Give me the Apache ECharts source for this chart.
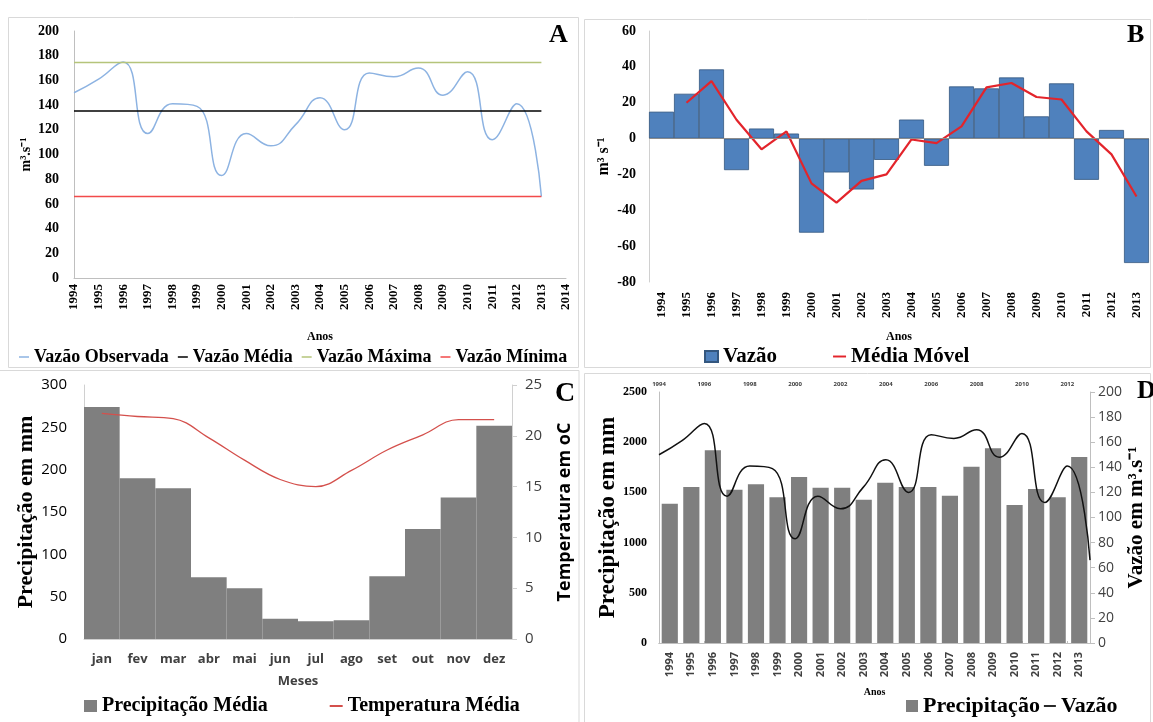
<!DOCTYPE html>
<html lang="pt">
<head>
  <meta charset="UTF-8" />
  <title>Vazão e precipitação</title>
  <script src="https://cdn.jsdelivr.net/npm/echarts@6/dist/echarts.min.js"></script>
  <style>
    html, body { margin: 0; background: #fff; }
    #main { width: 1153px; height: 722px; }
  </style>
</head>
<body>
  <div id="main"></div>
  <script type="text/javascript">
    // dados
    var anos = ['1994', '1995', '1996', '1997', '1998', '1999', '2000', '2001', '2002', '2003',
      '2004', '2005', '2006', '2007', '2008', '2009', '2010', '2011', '2012', '2013']
    var anosEixoA = anos.concat(['2014'])
    var meses = ['jan', 'fev', 'mar', 'abr', 'mai', 'jun', 'jul', 'ago', 'set', 'out', 'nov', 'dez']

    // A - vazão observada (m3/s)
    var vazaoObservada = [150, 161, 175, 117, 141, 139, 83, 117, 107, 124,
      146, 120, 166, 163, 170, 148, 167, 112, 141, 66]
    var vazaoMedia = 135.3
    var vazaoMaxima = 174.5
    var vazaoMinima = 66

    // B - desvio da vazão e média móvel
    var desvioVazao = [15, 25, 38.6, -17.6, 5.6, 2.8, -52.5, -18.9, -28.4, -11.9,
      10.6, -15.2, 29.1, 28, 34.1, 12.4, 30.8, -23, 4.8, -69.4]
    var mediaMovel = [null, 20, 32, 10.5, -6, 4, -25, -35.7, -23.6, -20,
      -0.5, -2.5, 6.8, 28.6, 31, 23.2, 21.8, 4, -8.8, -32.3]

    // C - climatologia mensal
    var precipMensal = [274, 190, 178, 73, 60, 24, 21, 22, 74, 130, 167, 252]
    var tempMensal = [22.2, 21.9, 21.7, 19.8, 17.6, 15.7, 15.0, 16.6, 18.6, 20.1, 21.6, 21.6]

    // D - precipitação anual (mm)
    var precipAnual = [1388, 1554, 1919, 1527, 1580, 1451, 1653, 1547, 1547, 1428,
      1597, 1554, 1554, 1467, 1756, 1939, 1374, 1534, 1451, 1853]

    var serif = '"Liberation Serif", "Times New Roman", serif'
    var sans = '"Open Sans", "Liberation Sans", sans-serif'
    var cinza = '#bfbfbf'
    // traço curto usado na legenda das linhas
    var tracoLegenda = 'path://M0,0 H20 V3 H0 Z'

    var myChart = echarts.init(document.getElementById('main'))

    function eixoLinha(cor) {
      return { show: true, lineStyle: { color: cor || cinza, width: 1 } }
    }
    function numeroSimples(v) {
      return String(v)
    }

    var option = {
      animation: false,
      backgroundColor: '#fff',
      grid: [
        { left: 74, top: 31, width: 492, height: 247 },
        { left: 649, top: 31, width: 500, height: 251 },
        { left: 84, top: 385, width: 428, height: 254 },
        { left: 659, top: 392, width: 431, height: 251 }
      ],
      xAxis: [
        {
          gridIndex: 0, type: 'category', data: anosEixoA, boundaryGap: false,
          axisLine: eixoLinha(), axisTick: { show: false },
          axisLabel: { rotate: 90, margin: 6, interval: 0, fontFamily: serif, fontWeight: 'bold', fontSize: 13, color: '#000' },
          name: 'Anos', nameLocation: 'middle', nameGap: 53,
          nameTextStyle: { fontFamily: serif, fontWeight: 'bold', fontSize: 12, color: '#000' }
        },
        {
          gridIndex: 1, type: 'category', data: anos,
          axisLine: { show: false, onZero: false }, axisTick: { show: false },
          axisLabel: { rotate: 90, margin: 10, interval: 0, fontFamily: serif, fontWeight: 'bold', fontSize: 13, color: '#000' },
          name: 'Anos', nameLocation: 'middle', nameGap: 49,
          nameTextStyle: { fontFamily: serif, fontWeight: 'bold', fontSize: 12, color: '#000' }
        },
        {
          gridIndex: 2, type: 'category', data: meses,
          axisLine: eixoLinha('#d0d0d0'), axisTick: { show: false },
          axisLabel: { margin: 14, interval: 0, fontFamily: sans, fontWeight: 'bold', fontSize: 13, color: '#404040' },
          name: 'Meses', nameLocation: 'middle', nameGap: 36,
          nameTextStyle: { fontFamily: sans, fontWeight: 'bold', fontSize: 13, color: '#404040' }
        },
        {
          gridIndex: 3, type: 'category', data: anos, position: 'bottom',
          axisLine: eixoLinha(), axisTick: { show: false },
          axisLabel: { rotate: 90, margin: 9, interval: 0, fontFamily: sans, fontWeight: 'bold', fontSize: 11, color: '#404040' },
          name: 'Anos', nameLocation: 'middle', nameGap: 44,
          nameTextStyle: { fontFamily: serif, fontWeight: 'bold', fontSize: 10, color: '#000' }
        },
        {
          // eixo superior do painel D (vazão)
          gridIndex: 3, type: 'category', data: anos, position: 'top', boundaryGap: false,
          axisLine: eixoLinha(), axisTick: { show: true, length: 2, lineStyle: { color: cinza } },
          axisLabel: { interval: 1, margin: 5, fontFamily: sans, fontWeight: 'bold', fontSize: 6, color: '#404040' }
        }
      ],
      yAxis: [
        {
          gridIndex: 0, type: 'value', min: 0, max: 200, interval: 20,
          axisLine: eixoLinha(), axisTick: { show: false }, splitLine: { show: false },
          axisLabel: { margin: 15, fontFamily: serif, fontWeight: 'bold', fontSize: 14, color: '#000' },
          name: 'm³.s⁻¹', nameLocation: 'middle', nameGap: 41, nameRotate: 90,
          nameTextStyle: { fontFamily: serif, fontWeight: 'bold', fontSize: 14, color: '#000' }
        },
        {
          gridIndex: 1, type: 'value', min: -80, max: 60, interval: 20,
          axisLine: eixoLinha('#d0d0d0'), axisTick: { show: false }, splitLine: { show: false },
          axisLabel: { margin: 13, fontFamily: serif, fontWeight: 'bold', fontSize: 14, color: '#000' },
          name: 'm³ s⁻¹', nameLocation: 'middle', nameGap: 37, nameRotate: 90,
          nameTextStyle: { fontFamily: serif, fontWeight: 'bold', fontSize: 16, color: '#000' }
        },
        {
          gridIndex: 2, type: 'value', min: 0, max: 300, interval: 50,
          axisLine: eixoLinha('#d0d0d0'), axisTick: { show: false }, splitLine: { show: false },
          axisLabel: { margin: 17, fontFamily: sans, fontSize: 15, color: '#000' },
          name: 'Precipitação em mm', nameLocation: 'middle', nameGap: 44, nameRotate: 90,
          nameTextStyle: { fontFamily: serif, fontWeight: 'bold', fontSize: 22, color: '#000' }
        },
        {
          gridIndex: 2, type: 'value', position: 'right', min: 0, max: 25, interval: 5,
          axisLine: eixoLinha('#d0d0d0'), axisTick: { show: true, length: 5, lineStyle: { color: '#d0d0d0' } },
          splitLine: { show: false },
          axisLabel: { margin: 13, fontFamily: sans, fontSize: 15, color: '#404040' },
          name: 'Temperatura em oC', nameLocation: 'middle', nameGap: 44, nameRotate: 90,
          nameTextStyle: { fontFamily: sans, fontWeight: 'bold', fontSize: 18, color: '#000' }
        },
        {
          gridIndex: 3, type: 'value', min: 0, max: 2500, interval: 500,
          axisLine: eixoLinha(), axisTick: { show: false }, splitLine: { show: false },
          axisLabel: { margin: 12, fontFamily: serif, fontWeight: 'bold', fontSize: 12, color: '#000', formatter: numeroSimples },
          name: 'Precipitação em mm', nameLocation: 'middle', nameGap: 38, nameRotate: 90,
          nameTextStyle: { fontFamily: serif, fontWeight: 'bold', fontSize: 23, color: '#000' }
        },
        {
          gridIndex: 3, type: 'value', position: 'right', min: 0, max: 200, interval: 20,
          axisLine: eixoLinha(), axisTick: { show: true, length: 5, lineStyle: { color: cinza } },
          splitLine: { show: false },
          axisLabel: { margin: 8, fontFamily: sans, fontSize: 14, color: '#404040' },
          name: 'Vazão em m³.s⁻¹', nameLocation: 'middle', nameGap: 36, nameRotate: 90,
          nameTextStyle: { fontFamily: serif, fontWeight: 'bold', fontSize: 21, color: '#000' }
        }
      ],
      legend: [
        {
          left: 14, top: 343, itemWidth: 10, itemHeight: 12, itemGap: 9,
          textStyle: { fontFamily: serif, fontWeight: 'bold', fontSize: 18, color: '#000' },
          data: [
            { name: 'Vazão Observada', icon: tracoLegenda },
            { name: 'Vazão Média', icon: tracoLegenda },
            { name: 'Vazão Máxima', icon: tracoLegenda },
            { name: 'Vazão Mínima', icon: tracoLegenda }
          ]
        },
        {
          left: 699, top: 341, itemWidth: 13, itemHeight: 11, itemGap: 56,
          textStyle: { fontFamily: serif, fontWeight: 'bold', fontSize: 21, color: '#000' },
          data: [{ name: 'Vazão', icon: 'rect' }, { name: 'Média Móvel', icon: tracoLegenda }]
        },
        {
          left: 79, top: 691, itemWidth: 13, itemHeight: 12, itemGap: 62,
          textStyle: { fontFamily: serif, fontWeight: 'bold', fontSize: 20, color: '#000' },
          data: [{ name: 'Precipitação Média', icon: 'rect' }, { name: 'Temperatura Média', icon: tracoLegenda }]
        },
        {
          left: 901, top: 690, itemWidth: 12, itemHeight: 12, itemGap: 4,
          textStyle: { fontFamily: serif, fontWeight: 'bold', fontSize: 22, color: '#000' },
          formatter: function (n) { return n.trim() },
          data: [{ name: 'Precipitação', icon: 'rect' }, { name: 'Vazão ', icon: tracoLegenda }]
        }
      ],
      graphic: [
        { type: 'rect', shape: { x: 8.5, y: 17.5, width: 570, height: 350 }, style: { fill: 'none', stroke: '#d9d9d9', lineWidth: 1 }, silent: true },
        { type: 'rect', shape: { x: 584.5, y: 19.5, width: 566, height: 348 }, style: { fill: 'none', stroke: '#d9d9d9', lineWidth: 1 }, silent: true },
        { type: 'rect', shape: { x: -1, y: 370.5, width: 580, height: 360 }, style: { fill: 'none', stroke: '#d9d9d9', lineWidth: 1 }, silent: true },
        { type: 'rect', shape: { x: 584.5, y: 373.5, width: 566, height: 360 }, style: { fill: 'none', stroke: '#d9d9d9', lineWidth: 1 }, silent: true },
        { type: 'text', left: 549, top: 22, style: { text: 'A', font: 'bold 26px ' + serif, fill: '#000' } },
        { type: 'text', left: 1127, top: 22, style: { text: 'B', font: 'bold 26px ' + serif, fill: '#000' } },
        { type: 'text', left: 555, top: 380, style: { text: 'C', font: 'bold 28px ' + serif, fill: '#000' } },
        { type: 'text', left: 1137, top: 378, style: { text: 'D', font: 'bold 26px ' + serif, fill: '#000' } }
      ],
      series: [
        // painel A
        {
          name: 'Vazão Observada', type: 'line', xAxisIndex: 0, yAxisIndex: 0,
          data: vazaoObservada, smooth: 0.5, symbol: 'none',
          itemStyle: { color: '#8db3e2' }, lineStyle: { color: '#8db3e2', width: 1.5 }
        },
        {
          name: 'Vazão Média', type: 'line', xAxisIndex: 0, yAxisIndex: 0,
          data: [[0, vazaoMedia], [anos.length - 1, vazaoMedia]], symbol: 'none',
          itemStyle: { color: '#000' }, lineStyle: { color: '#000', width: 1.5 }
        },
        {
          name: 'Vazão Máxima', type: 'line', xAxisIndex: 0, yAxisIndex: 0,
          data: [[0, vazaoMaxima], [anos.length - 1, vazaoMaxima]], symbol: 'none',
          itemStyle: { color: '#b5c47a' }, lineStyle: { color: '#b5c47a', width: 1.5 }
        },
        {
          name: 'Vazão Mínima', type: 'line', xAxisIndex: 0, yAxisIndex: 0,
          data: [[0, vazaoMinima], [anos.length - 1, vazaoMinima]], symbol: 'none',
          itemStyle: { color: '#f24a4a' }, lineStyle: { color: '#f24a4a', width: 1.5 }
        },
        // painel B
        {
          name: 'Vazão', type: 'bar', xAxisIndex: 1, yAxisIndex: 1,
          data: desvioVazao, barCategoryGap: 0,
          itemStyle: { color: '#4f81bd', borderColor: '#34577f', borderWidth: 0.8 },
          markLine: {
            silent: true, symbol: 'none', label: { show: false },
            lineStyle: { color: '#8c8c8c', width: 1, type: 'solid' },
            data: [{ yAxis: 0 }]
          }
        },
        {
          name: 'Média Móvel', type: 'line', xAxisIndex: 1, yAxisIndex: 1,
          data: mediaMovel, symbol: 'none', z: 3,
          itemStyle: { color: '#e3242b' }, lineStyle: { color: '#e3242b', width: 2.2 }
        },
        // painel C
        {
          name: 'Precipitação Média', type: 'bar', xAxisIndex: 2, yAxisIndex: 2,
          data: precipMensal, barCategoryGap: 0,
          itemStyle: { color: '#7f7f7f' }
        },
        {
          name: 'Temperatura Média', type: 'line', xAxisIndex: 2, yAxisIndex: 3,
          data: tempMensal, smooth: 0.4, symbol: 'none', z: 3,
          itemStyle: { color: '#d4504c' }, lineStyle: { color: '#d4504c', width: 1.3 }
        },
        // painel D
        {
          name: 'Precipitação', type: 'bar', xAxisIndex: 3, yAxisIndex: 4,
          data: precipAnual, barCategoryGap: '25%',
          itemStyle: { color: '#7f7f7f' }
        },
        {
          name: 'Vazão ', type: 'line', xAxisIndex: 4, yAxisIndex: 5,
          data: vazaoObservada, smooth: 0.5, symbol: 'none', z: 3,
          itemStyle: { color: '#111' }, lineStyle: { color: '#111', width: 1.5 }
        }
      ]
    }

    myChart.setOption(option)
  </script>
</body>
</html>
